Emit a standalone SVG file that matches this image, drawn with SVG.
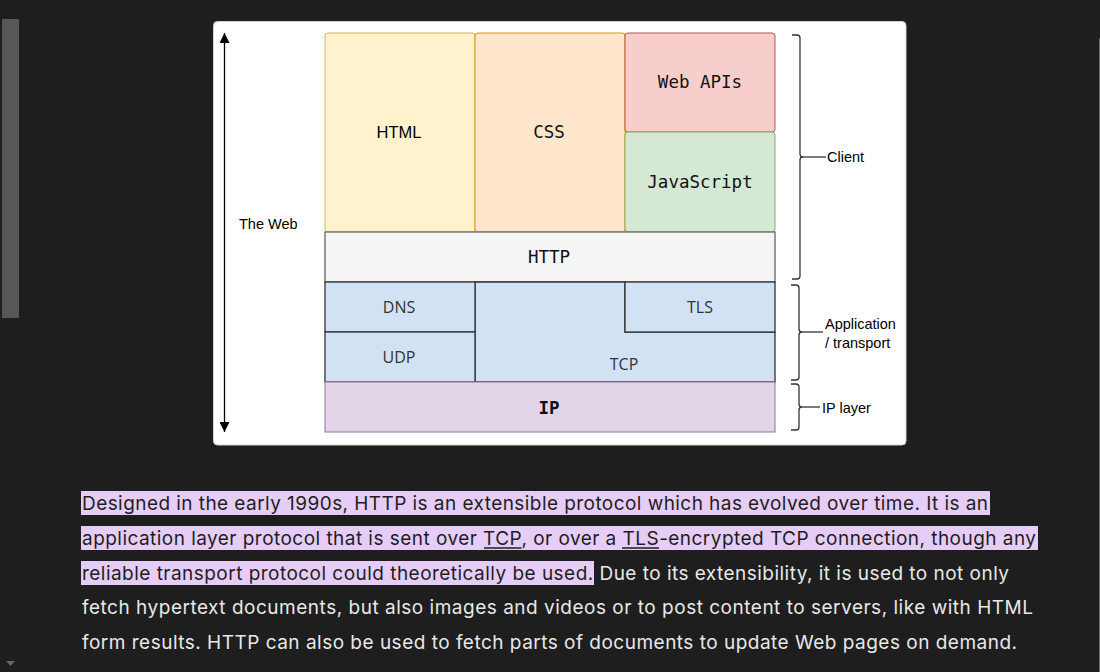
<svg xmlns="http://www.w3.org/2000/svg" width="1100" height="672" viewBox="0 0 1100 672">
<style>
.mono{font-family:"DejaVu Sans Mono","Liberation Mono",monospace;font-size:17.5px;text-anchor:middle;dominant-baseline:central;fill:#111}
.sans{font-family:"Open Sans","Noto Sans","Liberation Sans",sans-serif;font-size:16px;text-anchor:middle;dominant-baseline:central;fill:#333}
.lbl{font-family:"Liberation Sans",Arial,sans-serif;font-size:14.5px;fill:#000;dominant-baseline:central}
.br{fill:none;stroke:#333;stroke-width:1.3}
.para{font-family:Inter,"Noto Sans",sans-serif;font-size:19px}
.hl{fill:#e6cdf8}
</style>
<defs>
<marker id="ah" viewBox="0 0 10 10" refX="10" refY="5" markerWidth="10" markerHeight="10" markerUnits="userSpaceOnUse" orient="auto">
<path d="M0,0 L10,5 L0,10 z" fill="#000"/>
</marker>
</defs>
<rect x="0" y="0" width="1100" height="672" fill="#1e1e1e"/>
<rect x="2" y="19" width="17" height="299" fill="#575757"/>
<line x1="1099.5" y1="38" x2="1099.5" y2="672" stroke="#6a6a6a" stroke-width="1"/>
<path d="M6,661 L15,661 L10.5,666 z" fill="#666"/>

<rect x="213.5" y="21.5" width="692.5" height="423.5" rx="4" fill="#ffffff" stroke="#d0d0d0" stroke-width="1"/>

<g id="connectors">
<line x1="224.5" y1="228" x2="224.5" y2="33" stroke="#000" stroke-width="1.3" marker-end="url(#ah)"/>
<line x1="224.5" y1="228" x2="224.5" y2="432" stroke="#000" stroke-width="1.3" marker-end="url(#ah)"/>
</g>

<g id="the-web"><text class="lbl" x="239" y="224">The Web</text></g>

<g id="html"><rect x="325" y="33" width="150" height="199" rx="3" fill="#fff2cc" stroke="#d6b656"/><text x="399" y="132" font-family="Liberation Sans,Arial,sans-serif" font-size="16.5" text-anchor="middle" dominant-baseline="central" fill="#000">HTML</text></g>
<g id="css"><rect x="475" y="33" width="150" height="199" rx="3" fill="#ffe6cc" stroke="#d79b00"/><text class="mono" x="549" y="132" fill="#000">CSS</text></g>
<g id="webapis"><rect x="625" y="33" width="150" height="99" rx="3" fill="#f8cecc" stroke="#b85450"/><text class="mono" x="700" y="82">Web APIs</text></g>
<g id="javascript"><rect x="625" y="132" width="150" height="100" rx="3" fill="#d5e8d4" stroke="#82b366"/><text class="mono" x="700" y="182">JavaScript</text></g>
<g id="http"><rect x="325" y="232" width="450" height="50" fill="#f5f5f5" stroke="#666666" stroke-width="1.3"/><text class="mono" x="549" y="257" fill="#333">HTTP</text></g>
<g id="tcp"><path d="M475,282 L625,282 L625,332 L775,332 L775,382 L475,382 z" fill="#d0e2f4" stroke="#333" stroke-width="1.3"/><text class="sans" x="624" y="364">TCP</text></g>
<g id="tls"><rect x="625" y="282" width="150" height="50" fill="#d0e2f4" stroke="#333" stroke-width="1.3"/><text class="sans" x="700" y="307">TLS</text></g>
<g id="dns"><rect x="325" y="282" width="150" height="50" fill="#d0e2f4" stroke="#333" stroke-width="1.3"/><text class="sans" x="399" y="307">DNS</text></g>
<g id="udp"><rect x="325" y="332" width="150" height="50" fill="#d0e2f4" stroke="#333" stroke-width="1.3"/><text class="sans" x="399" y="357">UDP</text></g>
<g id="ip"><rect x="325" y="382" width="450" height="50" fill="#e1d5e7" stroke="#9673a6"/><text class="mono" x="549" y="408" fill="#000" font-weight="bold">IP</text></g>

<g id="client">
<path class="br" d="M792,35 L797,35 Q800,35 800,38 L800,154 Q800,157 803,157 Q800,157 800,160 L800,276 Q800,279 797,279 L792,279"/>
<line x1="803" y1="157" x2="826" y2="157" stroke="#333" stroke-width="1.3"/>
<text class="lbl" x="827" y="157">Client</text>
</g>
<g id="application-transport">
<path class="br" d="M791,285 L796,285 Q799,285 799,288 L799,329 Q799,332 802,332 Q799,332 799,335 L799,377 Q799,380 796,380 L791,380"/>
<line x1="802" y1="332" x2="823" y2="332" stroke="#333" stroke-width="1.3"/>
<text class="lbl" x="825" y="324">Application</text>
<text class="lbl" x="825" y="343">/ transport</text>
</g>
<g id="ip-layer">
<path class="br" d="M791,384 L796,384 Q799,384 799,387 L799,404 Q799,407 802,407 Q799,407 799,410 L799,427 Q799,430 796,430 L791,430"/>
<line x1="802" y1="407" x2="820" y2="407" stroke="#333" stroke-width="1.3"/>
<text class="lbl" x="822" y="408">IP layer</text>
</g>

<g id="paragraph">
<rect class="hl" x="81" y="491" width="909" height="24"/>
<rect class="hl" x="81" y="526" width="957" height="24"/>
<rect class="hl" x="81" y="561" width="513" height="24"/>
<text class="para" x="82" y="509.5" fill="#1e1e1e" textLength="906" lengthAdjust="spacing">Designed in the early 1990s, HTTP is an extensible protocol which has evolved over time. It is an</text>
<text class="para" x="82" y="544.5" fill="#1e1e1e" textLength="954" lengthAdjust="spacing">application layer protocol that is sent over TCP, or over a TLS-encrypted TCP connection, though any</text>
<text class="para" x="82" y="579.5" textLength="927" lengthAdjust="spacing"><tspan fill="#1e1e1e">reliable transport protocol could theoretically be used.</tspan><tspan fill="#e8e8e8"> Due to its extensibility, it is used to not only</tspan></text>
<text class="para" x="82" y="613.5" fill="#e8e8e8" textLength="951" lengthAdjust="spacing">fetch hypertext documents, but also images and videos or to post content to servers, like with HTML</text>
<text class="para" x="82" y="648.5" fill="#e8e8e8" textLength="935" lengthAdjust="spacing">form results. HTTP can also be used to fetch parts of documents to update Web pages on demand.</text>
<line x1="484" y1="548" x2="521.5" y2="548" stroke="#1e1e1e" stroke-width="1.5"/>
<line x1="622" y1="548" x2="659" y2="548" stroke="#1e1e1e" stroke-width="1.5"/>
</g>
</svg>
